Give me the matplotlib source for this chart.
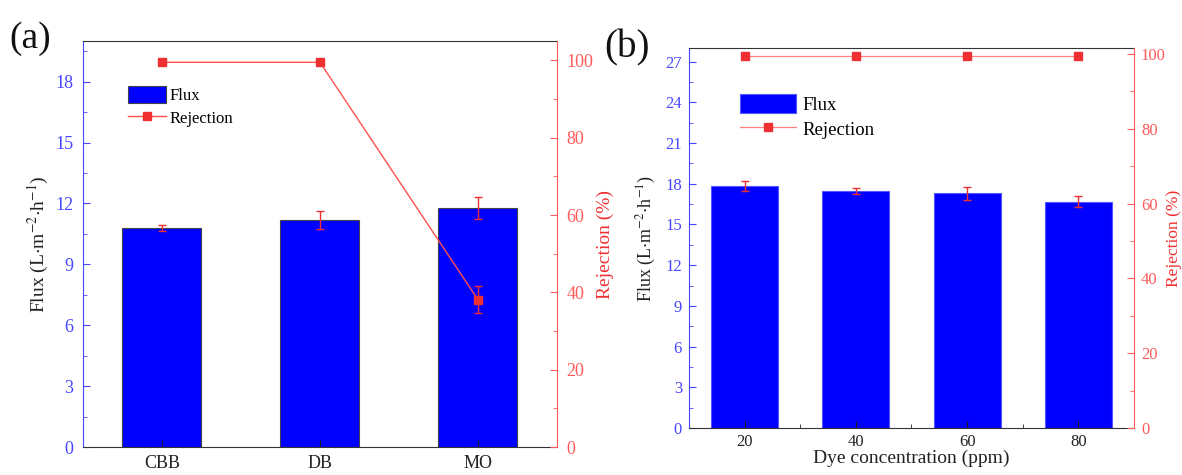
import matplotlib.pyplot as plt
from matplotlib.ticker import MultipleLocator

plt.rcParams['font.family'] = ['Liberation Serif', 'DejaVu Serif']
plt.rcParams['mathtext.fontset'] = 'stix'

# panel (a) data
dyes = ['CBB', 'DB', 'MO']
flux_a = [10.77, 11.17, 11.77]
flux_a_err = [0.15, 0.45, 0.55]
rej_a = [99.5, 99.5, 38.1]
rej_a_err = [0.2, 0.2, 3.5]

# panel (b) data
conc = [20, 40, 60, 80]
flux_b = [17.86, 17.47, 17.3, 16.68]
flux_b_err = [0.36, 0.25, 0.48, 0.38]
rej_b = [99.5, 99.5, 99.5, 99.5]
rej_b_err = [0.2, 0.2, 0.2, 0.2]

blue_tick = '#4646FF'
red_tick = '#FF5A5A'
red = '#F03030'

fig = plt.figure(figsize=(11.82, 4.75), dpi=100)


def style(ax, ax2, ytop, ystep, rtop, fs, pad, lpad_l, lpad_r, rfs):
    ax.set_ylim(0, ytop)
    ax.yaxis.set_major_locator(MultipleLocator(ystep))
    ax.yaxis.set_minor_locator(MultipleLocator(ystep / 2))
    ax.tick_params(axis='y', which='both', colors=blue_tick, labelsize=fs, direction='in', pad=pad)
    ax.tick_params(axis='y', which='major', length=5)
    ax.tick_params(axis='y', which='minor', length=3)
    ax.tick_params(axis='x', which='both', direction='in', labelsize=fs, colors='#222222', pad=pad - 1)
    ax.tick_params(axis='x', which='major', length=5)
    ax.tick_params(axis='x', which='minor', length=3)
    ax.spines['left'].set_color(blue_tick)
    ax.spines['top'].set_color('#333333')
    ax.spines['bottom'].set_color('#333333')
    ax.spines['right'].set_visible(False)
    ax.set_ylabel('Flux (L$\\cdot$m$^{-2}$$\\cdot$h$^{-1}$)', fontsize=fs + 1, color='#222222',
                  labelpad=lpad_l)

    ax2.set_ylim(0, rtop)
    ax2.yaxis.set_major_locator(MultipleLocator(20))
    ax2.yaxis.set_minor_locator(MultipleLocator(10))
    ax2.tick_params(axis='y', which='both', colors=red_tick, labelsize=fs, direction='in', pad=pad)
    ax2.tick_params(axis='y', which='major', length=5)
    ax2.tick_params(axis='y', which='minor', length=3)
    ax2.spines['right'].set_color(red_tick)
    ax2.spines['left'].set_visible(False)
    ax2.spines['top'].set_visible(False)
    ax2.spines['bottom'].set_visible(False)
    ax2.set_ylabel('Rejection (%)', fontsize=rfs, color=red, labelpad=lpad_r)


# (a)
ax = fig.add_axes([0.0702, 0.0589, 0.401, 0.8547])
x = list(range(len(dyes)))
bars = ax.bar(x, flux_a, width=0.5, color='#0000FF', edgecolor='#444444', linewidth=0.8,
              yerr=flux_a_err, ecolor=red, capsize=3, error_kw=dict(elinewidth=1), label='Flux')
ax.set_xlim(-0.5, 2.5)
ax.set_xticks(x)
ax.set_xticklabels(dyes)
ax2 = ax.twinx()
line, = ax2.plot(x, rej_a, color='#FF5050', lw=1, marker='s', ms=6, mfc=red, mec=red, label='Rejection')
ax2.errorbar(x, rej_a, yerr=rej_a_err, fmt='none', ecolor=red, capsize=3, elinewidth=1)
style(ax, ax2, 20, 3, 105, 13, 7, 3, 2, 14)
ax.yaxis.set_minor_locator(MultipleLocator(1.5))
ax2.legend([bars, line], ['Flux', 'Rejection'], loc='upper left', bbox_to_anchor=(0.08, 0.905),
           frameon=False, fontsize=12, handlelength=2.3, handleheight=1.2, labelspacing=0.25,
           handletextpad=0.2, borderaxespad=0)
fig.text(0.008, 0.9, '(a)', fontsize=27, color='#111111')

# (b)
bx = fig.add_axes([0.5829, 0.0989, 0.3765, 0.8])
bars_b = bx.bar(conc, flux_b, width=12, color='#0000FF', edgecolor='#5555FF', linewidth=0.8,
                yerr=flux_b_err, ecolor=red, capsize=3, error_kw=dict(elinewidth=1), label='Flux')
bx.set_xlim(10, 90)
bx.set_xticks(conc)
bx.xaxis.set_minor_locator(MultipleLocator(10))
bx2 = bx.twinx()
line_b, = bx2.plot(conc, rej_b, color='#FF8080', lw=0.9, marker='s', ms=6, mfc=red, mec=red, label='Rejection')
bx2.errorbar(conc, rej_b, yerr=rej_b_err, fmt='none', ecolor=red, capsize=3, elinewidth=1)
style(bx, bx2, 28, 3, 101.6, 12, 5, 5, 0, 12.5)
bx.yaxis.set_minor_locator(MultipleLocator(1.5))
bx.set_xlabel('Dye concentration (ppm)', fontsize=14, color='#222222', labelpad=0)
bx2.legend([bars_b, line_b], ['Flux', 'Rejection'], loc='upper left', bbox_to_anchor=(0.098, 0.9),
           frameon=False, fontsize=13.5, handlelength=3.0, handleheight=1.25, labelspacing=0.25,
           handletextpad=0.3, borderaxespad=0)
fig.text(0.511, 0.88, '(b)', fontsize=28, color='#111111')

fig.savefig('out.png', dpi=100)
